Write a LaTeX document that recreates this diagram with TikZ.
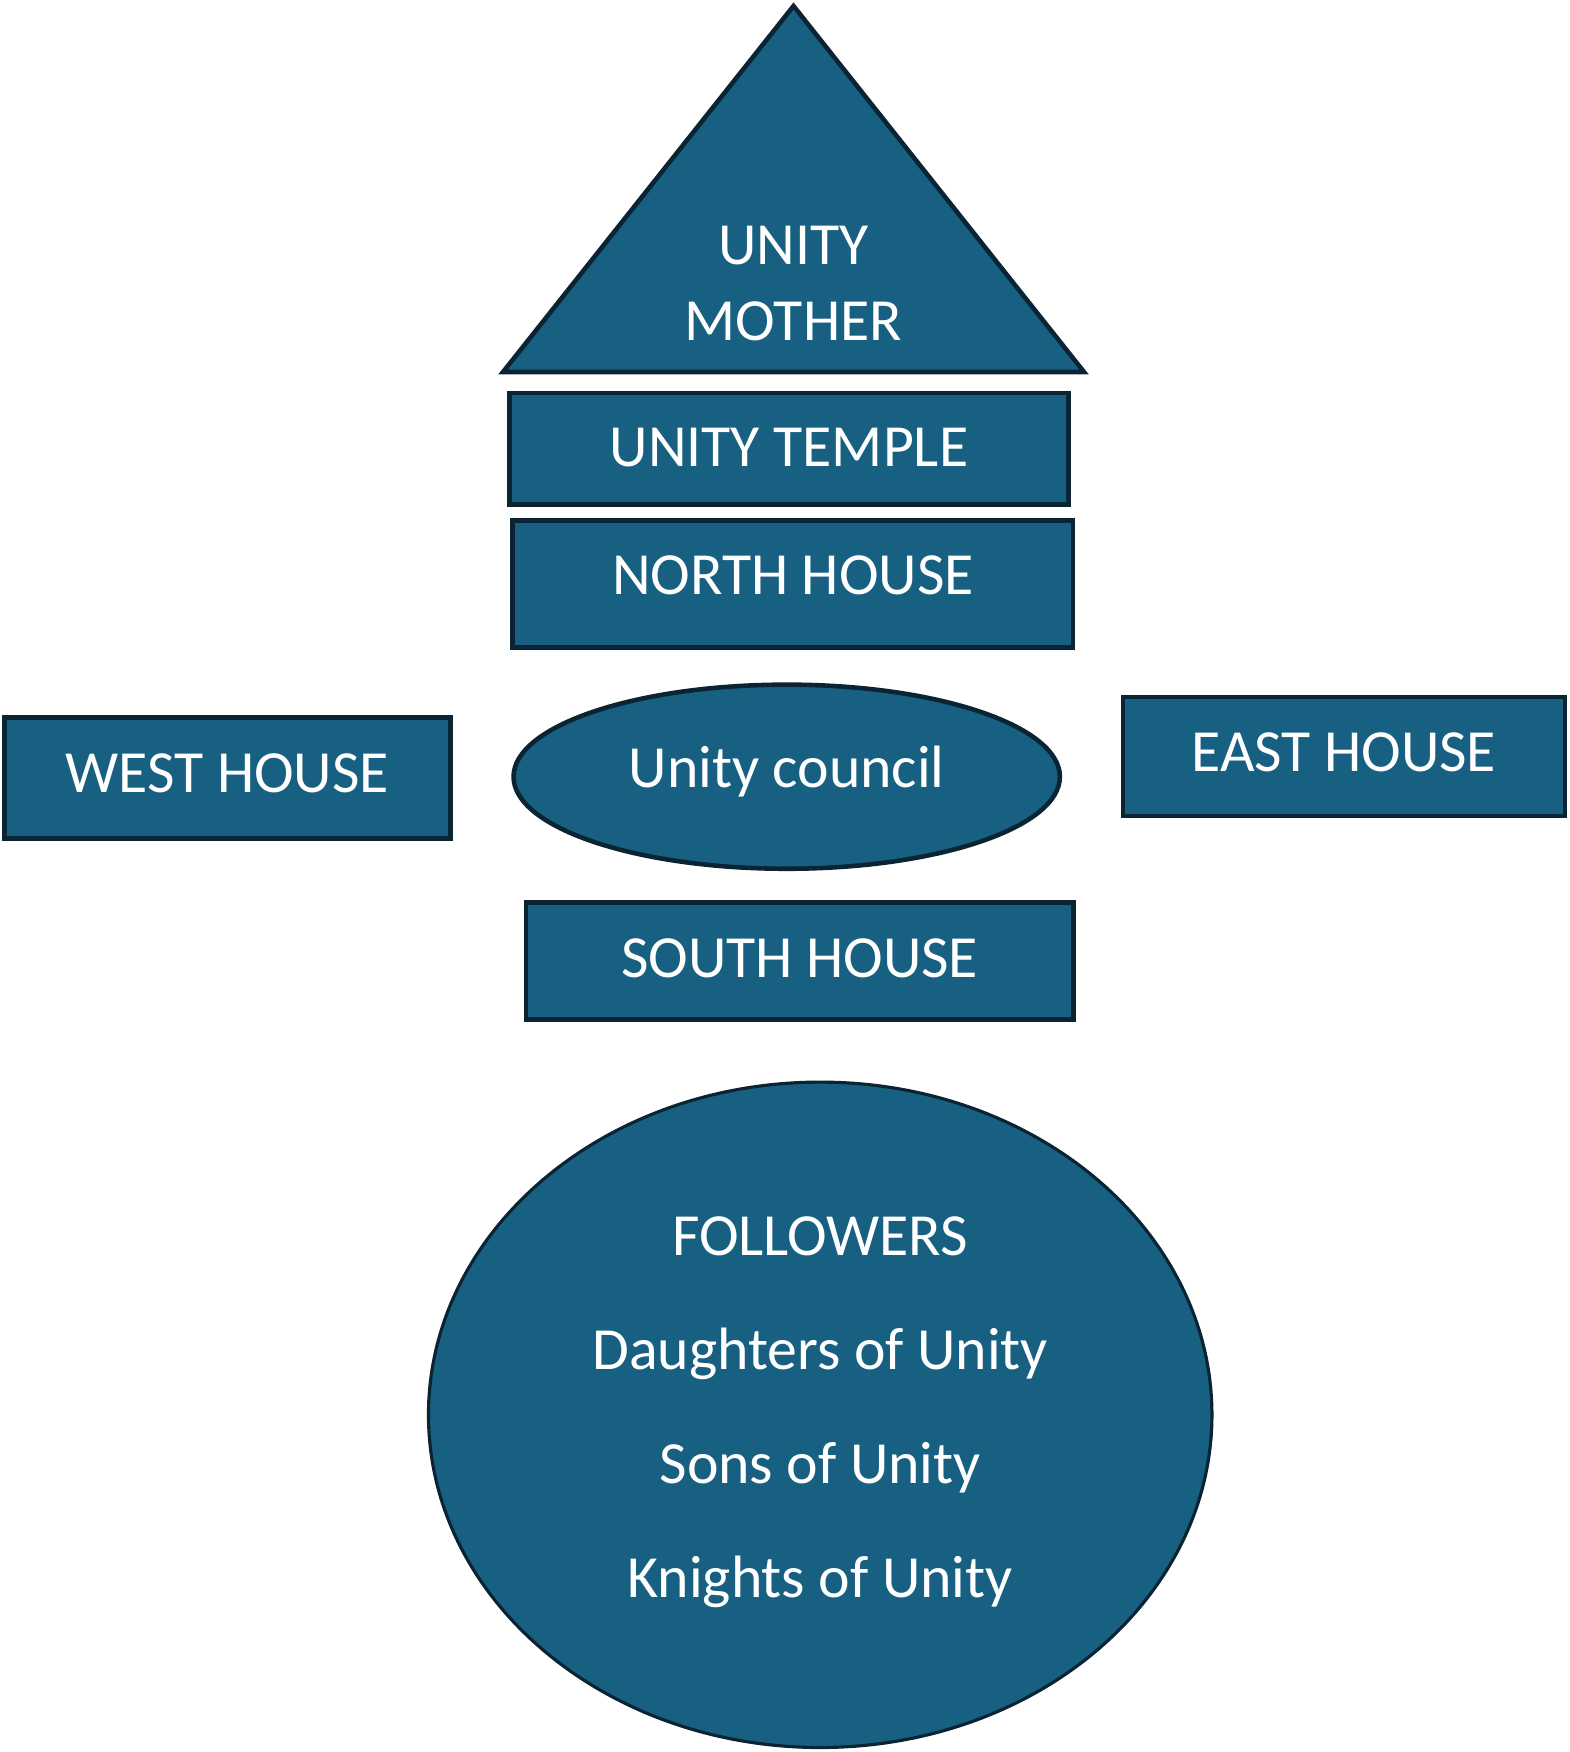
\documentclass[tikz,border=0pt]{standalone}
\usepackage{fontspec}
\setmainfont{Carlito}
\usetikzlibrary{shapes.geometric}
\definecolor{unityblue}{RGB}{24,96,130}
\definecolor{unityedge}{RGB}{10,36,52}
\tikzset{
  house/.style={draw=unityedge, fill=unityblue, line width=1.3pt, text=white,
    inner sep=0pt, text depth=0.1cm, font=\fontsize{17}{20.4}\selectfont},
  council/.style={house, ellipse},
}
\begin{document}
\begin{tikzpicture}[x=0.01cm,y=-0.01cm]
\useasboundingbox (0,0) rectangle (1569,1752);
% roof
\coordinate (apex) at (793.5,6);
\coordinate (roofl) at (503,372);
\coordinate (roofr) at (1084,372);
\draw[draw=unityedge,fill=unityblue,line width=1.3pt] (apex)--(roofr)--(roofl)--cycle;
\node[text=white,align=center,font=\fontsize{17}{21.6}\selectfont] (mother) at (793.4,284) {UNITY\\MOTHER};
% houses
\node[house,text depth=0.02cm,minimum width=5.59cm,minimum height=1.11cm] (temple) at (789,448.7) {UNITY TEMPLE};
\node[house,text depth=0.17cm,minimum width=5.60cm,minimum height=1.27cm] (north) at (792.9,583.9) {NORTH HOUSE};
\node[council,text depth=0.19cm,minimum width=5.46cm,minimum height=1.84cm] (council) at (786.7,776.7) {Unity council};
\node[house,minimum width=4.46cm,minimum height=1.21cm] (west) at (227.4,777.8) {WEST HOUSE};
\node[house,minimum width=4.42cm,minimum height=1.19cm] (east) at (1343.9,756.6) {EAST HOUSE};
\node[house,text depth=0.055cm,minimum width=5.47cm,minimum height=1.17cm] (south) at (799.6,961) {SOUTH HOUSE};
% followers
\node[council,line width=0.9pt,align=center,text depth=0.15cm,minimum width=7.83cm,minimum height=6.65cm,
  font=\fontsize{17}{32.4}\selectfont] (followers) at (820.2,1414.8)
  {FOLLOWERS\\Daughters of Unity\\Sons of Unity\\Knights of Unity};
\end{tikzpicture}
\end{document}
